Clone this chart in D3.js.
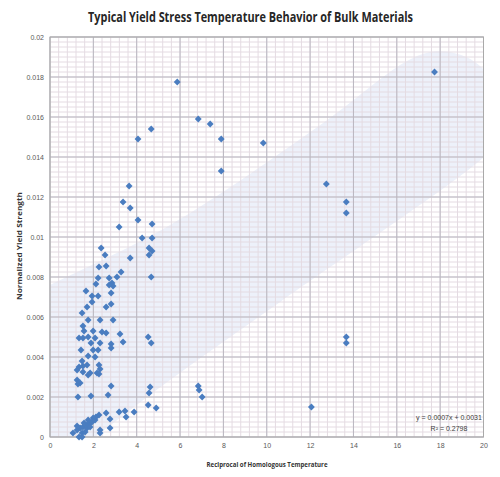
<!DOCTYPE html>
<html>
<head>
<meta charset="utf-8">
<script src="https://cdn.jsdelivr.net/npm/d3@7"></script>
<style>
body { margin: 0; background: #fff; }
</style>
</head>
<body>
<svg id="chart"></svg>
<script>
// values
var xValues = [
    5.87, 17.74, 6.84, 7.39, 7.90, 9.84, 7.90, 4.67, 4.06, 3.65, 3.37, 3.70, 4.06, 3.19, 4.71, 4.25, 4.71, 4.57, 4.71, 4.57,
    3.70, 4.67, 12.75, 13.67, 13.67, 13.67, 13.67, 12.06, 6.84, 6.88, 7.02, 4.53, 4.67, 4.62, 4.57, 4.53, 4.90, 3.19, 3.46, 3.51,
    3.88, 2.59, 2.26, 2.77, 2.77, 2.31, 2.31, 2.82, 2.68, 1.89, 1.29,
    2.36, 2.54, 2.26, 2.59, 3.28, 3.09, 2.22, 2.73, 2.86, 2.91, 2.73, 2.12, 1.66, 2.82, 1.94, 2.22, 1.94, 1.71, 2.59, 2.82,
    1.48, 2.91, 2.31, 1.76, 1.52, 1.57, 1.99, 2.40, 2.59, 1.34, 1.52, 1.76, 2.08, 3.23, 3.37, 1.89, 2.82, 2.31, 1.99, 2.22,
    1.43, 2.82, 2.08, 1.76, 1.48, 1.34, 1.71, 1.52, 1.52, 1.25, 1.39, 1.76, 1.85, 2.17, 2.31, 2.26, 2.26, 1.25, 1.29,
    1.06, 1.25, 1.39, 1.52, 1.71, 1.85, 1.94, 1.76, 1.99, 1.48, 1.62, 1.34, 1.48, 1.71, 1.85, 2.08, 1.57, 1.25, 2.12
];
var yValues = [
    0.01775, 0.01825, 0.0159, 0.01565, 0.0149, 0.0147, 0.0133, 0.0154, 0.0149, 0.01255, 0.01175, 0.01145, 0.01085, 0.0105, 0.01065, 0.00995, 0.00995, 0.00945, 0.0093, 0.0091,
    0.00895, 0.0080, 0.01265, 0.01175, 0.0112, 0.0050, 0.0047, 0.0015, 0.00255, 0.00235, 0.0020, 0.0050, 0.0047, 0.0025, 0.0022, 0.0016, 0.00145, 0.00125, 0.0013, 0.0010,
    0.00125, 0.0012, 0.0011, 0.0009, 0.00045, 0.00035, 0.0002, 0.00255, 0.0021, 0.00205, 0.0020,
    0.00945, 0.0091, 0.0085, 0.00855, 0.00825, 0.0080, 0.00795, 0.00795, 0.0077, 0.00755, 0.0076, 0.00765, 0.0073, 0.0072, 0.00705, 0.00705, 0.00675, 0.0065, 0.0065, 0.00665,
    0.0062, 0.00585, 0.00585, 0.00585, 0.00555, 0.0053, 0.0053, 0.00525, 0.0052, 0.00495, 0.00495, 0.0050, 0.00495, 0.00515, 0.00475, 0.0047, 0.00465, 0.0047, 0.00435, 0.00435,
    0.00435, 0.00445, 0.0040, 0.00405, 0.0038, 0.0035, 0.0036, 0.00355, 0.00325, 0.00285, 0.0027, 0.0031, 0.0032, 0.0032, 0.0034, 0.0036, 0.00315, 0.00335, 0.00265,
    0.0002, 0.00035, 0.00045, 0.0005, 0.0006, 0.0007, 0.00075, 0.00085, 0.00095, 0.0002, 0.00025, 0, 0, 0.00045, 0.0005, 0.00085, 0.0007, 0.00055, 0.001
];

// outline of the shaded band (data units)
var bandX = [-2.31, -2.31, 0, 5.54, 12.47, 16.35, 17.50, 18.49, 19.43, 20.34, 20.82, 20.76, 20.34, 19.64, 10.62, 5.54, 2.08, 0];
var bandY = [-0.00215, 0.00635, 0.0076, 0.0106, 0.0156, 0.018725, 0.01924, 0.01924, 0.01887, 0.017965, 0.016725, 0.01538, 0.014405, 0.013645, 0.00675, 0.00285, 0, -0.00175];

var xTicks = [0, 2, 4, 6, 8, 10, 12, 14, 16, 18, 20];
var yTicks = [0, 0.002, 0.004, 0.006, 0.008, 0.01, 0.012, 0.014, 0.016, 0.018, 0.02];

var title = "Typical Yield Stress Temperature Behavior of Bulk Materials";
var xTitle = "Reciprocal of Homologous Temperature";
var yTitle = "Normalized Yield Strength";
var trendLines = ["y = 0.0007x + 0.0031", "R\u00b2 = 0.2798"];

var dimensions = {
    width: 500,
    height: 477,
    margin: { top: 37, right: 16.5, bottom: 40, left: 50 }
};

var svg = d3.select("#chart")
            .attr("width", dimensions.width)
            .attr("height", dimensions.height)
            .style("font-family", "'Open Sans', 'Liberation Sans', sans-serif");

var xScale = d3.scaleLinear()
            .domain([0, 20])
            .range([dimensions.margin.left, dimensions.width - dimensions.margin.right]);

var yScale = d3.scaleLinear()
            .domain([0, 0.02])
            .range([dimensions.height - dimensions.margin.bottom, dimensions.margin.top]);

var x0 = xScale(0), x1 = xScale(20), y0 = yScale(0), y1 = yScale(0.02);

svg.append("clipPath")
    .attr("id", "plotclip")
    .append("rect")
    .attr("x", x0)
    .attr("y", y1)
    .attr("width", x1 - x0)
    .attr("height", y0 - y1);

// shaded band under the grid
var band = bandX.map((d, i) => [d, bandY[i]]);
svg.append("path")
    .datum(band)
    .attr("clip-path", "url(#plotclip)")
    .attr("d", d3.line()
        .x(d => xScale(d[0]))
        .y(d => yScale(d[1]))
        .curve(d3.curveCatmullRomClosed.alpha(0.5)))
    .attr("fill", "#edf1fa");

// minor grid
svg.append("g")
    .selectAll("line")
    .data(d3.range(0, 20.001, 0.4))
    .enter()
    .append("line")
    .attr("x1", d => xScale(d))
    .attr("x2", d => xScale(d))
    .attr("y1", y0)
    .attr("y2", y1)
    .attr("stroke", "#e4dbe2")
    .attr("stroke-width", 1);

svg.append("g")
    .selectAll("line")
    .data(d3.range(0, 0.02001, 0.00025))
    .enter()
    .append("line")
    .attr("x1", x0)
    .attr("x2", x1)
    .attr("y1", d => yScale(d))
    .attr("y2", d => yScale(d))
    .attr("stroke", "#e4dbe2")
    .attr("stroke-width", 1);

// major grid
svg.append("g")
    .selectAll("line")
    .data(xTicks)
    .enter()
    .append("line")
    .attr("x1", d => xScale(d))
    .attr("x2", d => xScale(d))
    .attr("y1", y0)
    .attr("y2", y1)
    .attr("stroke", "#b9b7c0")
    .attr("stroke-width", 1);

svg.append("g")
    .selectAll("line")
    .data(yTicks)
    .enter()
    .append("line")
    .attr("x1", x0)
    .attr("x2", x1)
    .attr("y1", d => yScale(d))
    .attr("y2", d => yScale(d))
    .attr("stroke", "#b9b7c0")
    .attr("stroke-width", 1);

svg.append("rect")
    .attr("x", x0)
    .attr("y", y1)
    .attr("width", x1 - x0)
    .attr("height", y0 - y1)
    .attr("fill", "none")
    .attr("stroke", "#a9a9a9");

// axes
var xAxis = svg.append("g")
    .call(d3.axisBottom(xScale).tickValues(xTicks).tickSize(0).tickPadding(6))
    .style("transform", `translateY(${y0}px)`);
xAxis.select(".domain").remove();
xAxis.selectAll("text")
    .attr("fill", "#595959")
    .style("font-size", "7px")
    .style("font-family", "'Liberation Sans', sans-serif");

var yAxis = svg.append("g")
    .call(d3.axisLeft(yScale).tickValues(yTicks).tickSize(0).tickPadding(6)
        .tickFormat(d => d === 0 ? "0" : String(+d.toFixed(3))))
    .style("transform", `translateX(${x0}px)`);
yAxis.select(".domain").remove();
yAxis.selectAll("text")
    .attr("fill", "#595959")
    .style("font-size", "7px")
    .style("font-family", "'Liberation Sans', sans-serif");

// points
svg.append("g")
    .selectAll("path")
    .data(xValues.map((d, i) => [d, yValues[i]]))
    .enter()
    .append("path")
    .attr("transform", d => "translate(" + xScale(d[0]) + "," + yScale(d[1]) + ")")
    .attr("d", d3.symbol().type(d3.symbolDiamond2).size(30))
    .attr("fill", "#4a7dc0");

// titles
svg.append("text")
    .attr("x", 250.5)
    .attr("y", 22)
    .attr("text-anchor", "middle")
    .attr("textLength", 325)
    .attr("lengthAdjust", "spacingAndGlyphs")
    .style("font-size", "13.5px")
    .style("font-weight", "700")
    .attr("fill", "#262626")
    .text(title);

svg.append("text")
    .attr("x", 267)
    .attr("y", 467)
    .attr("text-anchor", "middle")
    .attr("textLength", 121)
    .attr("lengthAdjust", "spacingAndGlyphs")
    .style("font-size", "7.5px")
    .style("font-weight", "700")
    .attr("fill", "#333")
    .text(xTitle);

svg.append("text")
    .attr("transform", "translate(22,246)rotate(-90)")
    .attr("text-anchor", "middle")
    .attr("textLength", 108)
    .attr("lengthAdjust", "spacingAndGlyphs")
    .style("font-size", "7.5px")
    .style("font-weight", "700")
    .attr("fill", "#333")
    .text(yTitle);

// trendline label
svg.append("g")
    .selectAll("text")
    .data(trendLines)
    .enter()
    .append("text")
    .attr("x", 449)
    .attr("y", (d, i) => 420 + i * 11)
    .attr("text-anchor", "middle")
    .style("font-size", "7px")
    .style("font-family", "'Liberation Sans', sans-serif")
    .attr("fill", "#404040")
    .text(d => d);
</script>
</body>
</html>
